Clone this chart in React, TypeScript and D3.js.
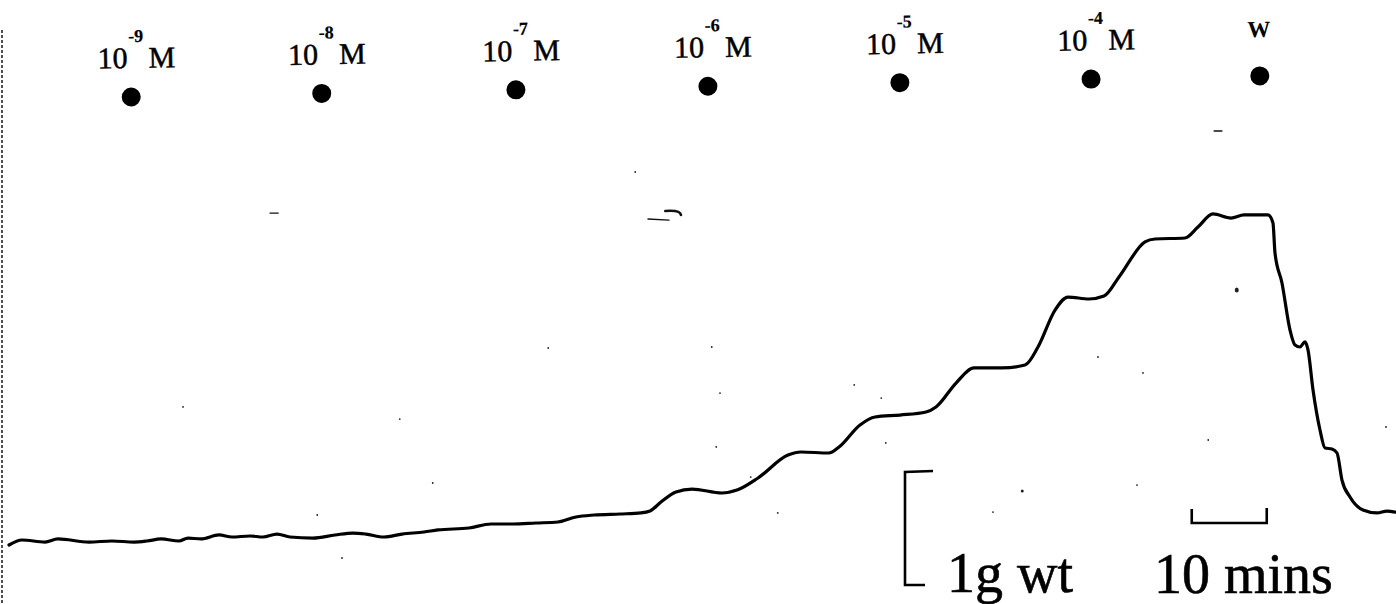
import React from "react";
import * as d3 from "d3";

// Isometric tension trace: cumulative doses, then washout.
// time in minutes, tension in grams above the resting baseline
const traceTime = [
  0, 1.73, 4.8, 6.53, 10.67, 13.73, 16.67, 18.4, 20.27, 22.67, 23.87, 25.6, 28.0, 29.73,
  32.13, 33.87, 35.73, 37.47, 40.53, 43.47, 45.87, 47.6, 50.0, 52.4, 55.33, 57.2, 61.33,
  64.27, 67.2, 70.27, 73.2, 75.6, 78.0, 81.47, 84.27, 85.47, 86.93, 88.93, 91.07, 95.07,
  97.07, 99.87, 103.87, 105.6, 109.33, 110.67, 113.47, 115.47, 118.8, 122.27, 123.6,
  126.27, 128.67, 132.4, 135.47, 137.2, 139.47, 141.2, 144.0, 146.0, 148.0, 151.47, 152.8,
  156.8, 158.53, 160.53, 162.93, 164.67, 167.87, 168.53, 168.8, 169.73, 170.8, 171.47,
  172.13, 172.8, 173.2, 173.87, 174.8, 175.47, 176.4, 177.07, 177.73, 178.8, 180.53,
  182.4, 183.73, 184.8,
];
const traceTension = [
  0, 0.044, 0.026, 0.053, 0.026, 0.035, 0.026, 0.035, 0.053, 0.035, 0.061, 0.053, 0.088,
  0.07, 0.079, 0.07, 0.096, 0.07, 0.061, 0.088, 0.105, 0.096, 0.07, 0.096, 0.114, 0.132,
  0.149, 0.184, 0.184, 0.193, 0.202, 0.246, 0.263, 0.272, 0.281, 0.298, 0.377, 0.465,
  0.491, 0.456, 0.482, 0.588, 0.789, 0.816, 0.807, 0.86, 1.053, 1.123, 1.14, 1.167, 1.211,
  1.421, 1.553, 1.553, 1.579, 1.737, 2.061, 2.175, 2.158, 2.184, 2.351, 2.658, 2.684,
  2.693, 2.789, 2.904, 2.868, 2.895, 2.895, 2.825, 2.561, 2.298, 1.886, 1.754, 1.737,
  1.781, 1.711, 1.36, 1.009, 0.851, 0.842, 0.807, 0.57, 0.421, 0.307, 0.281, 0.298, 0.289,
];

// Dose additions (molar, as powers of ten) and the washout
const doseTimes = [16.3, 41.7, 67.6, 93.2, 118.8, 144.3];
const doseExponents = ["-9", "-8", "-7", "-6", "-5", "-4"];
const washTime = 166.8;
const washLabel = "W";

// Calibration bars
const timeBarStart = 157.7;
const timeBarMinutes = 10;
const timeBarLabel = "10 mins";
const forceBarGrams = 1;
const forceBarLabel = "1g wt";

// Stray specks on the chart paper (time, tension)
const speckTime = [93.7, 94.8, 112.7, 116.3, 94.3, 98.9, 102.5, 116.9, 145.2, 151.2, 159.9, 183.6,
  135.1, 131.2, 150.4, 56.5, 41.1, 44.4, 23.2, 52.1, 71.9, 83.5];
const speckTension = [1.737, 1.333, 1.404, 1.289, 0.86, 0.596, 0.281, 0.895, 1.649, 1.509, 0.921,
  1.035, 0.474, 0.289, 0.526, 0.544, 0.263, -0.114, 1.211, 1.105, 1.728, 3.272];

const W = 1396;
const H = 604;
const serif = "'Liberation Serif', 'Times New Roman', Times, serif";

export default function App() {
  const x = d3.scaleLinear().domain([0, 185]).range([9, 9 + 185 * 7.5]);
  const y = d3.scaleLinear().domain([0, 3]).range([545, 545 - 3 * 114]);

  const points: [number, number][] = traceTime.map((t, i) => [t, traceTension[i]]);
  const line = d3
    .line<[number, number]>()
    .x((d) => x(d[0]))
    .y((d) => y(d[1]))
    .curve(d3.curveMonotoneX);

  // Marker row sits on a slight slant across the page
  const rowY = 97;
  const pivotX = x(doseTimes[0]);
  const dotR = 9.5;

  // 1 g bracket
  const gPx = y(0) - y(forceBarGrams);
  const bracketX = 905;
  const bracketTop = 471;
  const bracketBottom = bracketTop + gPx;

  // 10 min bar
  const tb0 = x(timeBarStart);
  const tb1 = x(timeBarStart + timeBarMinutes);
  const tbY = 523;

  return (
    <svg
      width={W}
      height={H}
      style={{ position: "absolute", left: 0, top: 0, background: "#fff" }}
      fontFamily={serif}
    >
      <rect width={W} height={H} fill="#fff" />

      {/* ragged left paper edge */}
      <line x1={2} x2={2} y1={30} y2={H} stroke="#222" strokeWidth={1.6} strokeDasharray="3 2" />

      {/* stray marks */}
      <g fill="#222">
        {speckTime.map((t, i) => (
          <circle key={i} cx={x(t)} cy={y(speckTension[i])} r={i === 12 ? 1.5 : 0.9} />
        ))}
        <ellipse cx={x(163.7)} cy={y(2.237)} rx={2} ry={2.6} />
      </g>
      <g stroke="#111" fill="none" strokeLinecap="round">
        <line x1={x(34.8)} x2={x(35.9)} y1={y(2.912)} y2={y(2.912)} strokeWidth={1.3} />
        <line x1={x(160.7)} x2={x(161.7)} y1={y(3.632)} y2={y(3.632)} strokeWidth={1.6} />
        <path d={`M${x(85.2)},${y(2.86)} L${x(88.0)},${y(2.85)}`} strokeWidth={1.4} />
        <path d={`M${x(87.5)},${y(2.93)} Q${x(89.5)},${y(2.94)} ${x(89.6)},${y(2.895)}`} strokeWidth={2.6} />
      </g>

      {/* dose markers */}
      <g transform={`rotate(-1.07, ${pivotX}, ${rowY})`} fill="#000">
        {doseTimes.map((t, i) => {
          const cx = x(t);
          return (
            <g key={i}>
              <circle cx={cx} cy={rowY} r={dotR} />
              <text x={cx - 33} y={rowY - 29} fontSize={30} stroke="#000" strokeWidth={0.5}>
                10
                <tspan dx={1} dy={-26} fontSize={18} fontWeight="bold" strokeWidth={0.2}>
                  {doseExponents[i]}
                </tspan>
                <tspan dx={5} dy={26} fontSize={30}>
                  M
                </tspan>
              </text>
            </g>
          );
        })}
        <circle cx={x(washTime)} cy={rowY} r={dotR} />
        <text
          x={x(washTime)}
          y={rowY - 39}
          fontSize={23}
          fontWeight="bold"
          textAnchor="middle"
        >
          {washLabel}
        </text>
      </g>

      {/* tension trace */}
      <path
        d={line(points) || ""}
        fill="none"
        stroke="#000"
        strokeWidth={3.2}
        strokeLinejoin="round"
        strokeLinecap="round"
      />

      {/* calibration: 1 g */}
      <path
        d={`M${bracketX + 28},${bracketTop} L${bracketX},${bracketTop + 1} L${bracketX},${bracketBottom} L${bracketX + 20},${bracketBottom}`}
        fill="none"
        stroke="#000"
        strokeWidth={2.6}
      />
      <text x={947} y={592} fontSize={56} stroke="#000" strokeWidth={0.6}>
        {forceBarLabel}
      </text>

      {/* calibration: 10 min */}
      <path
        d={`M${tb0},${tbY - 14} L${tb0},${tbY} L${tb1},${tbY} L${tb1},${tbY - 15}`}
        fill="none"
        stroke="#000"
        strokeWidth={2.6}
      />
      <text x={1154} y={593} fontSize={56} stroke="#000" strokeWidth={0.6}>
        {timeBarLabel}
      </text>
    </svg>
  );
}
